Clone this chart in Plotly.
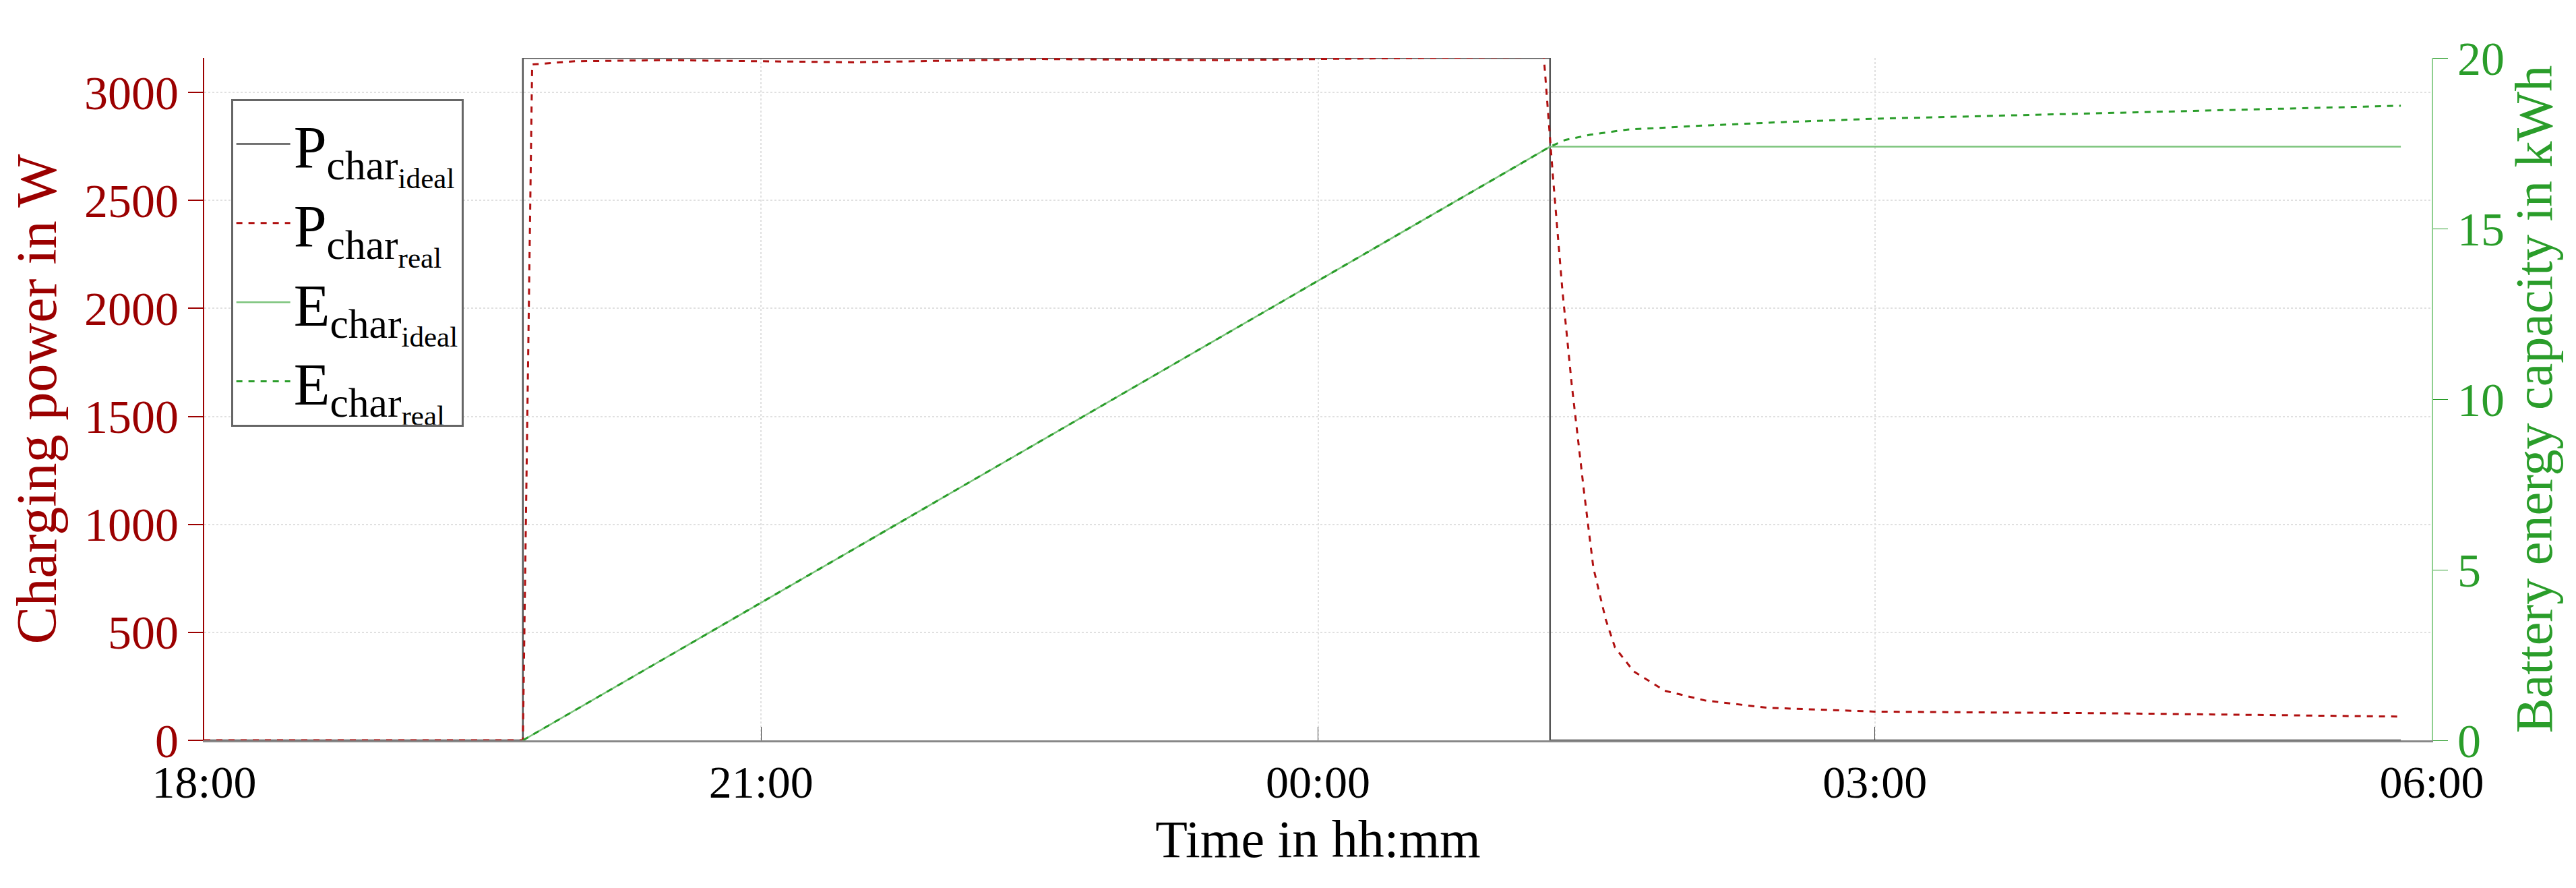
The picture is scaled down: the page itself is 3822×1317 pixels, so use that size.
import plotly.graph_objects as go

# --- data ---
p_ideal_t = ["2024-01-01 18:00", "2024-01-01 19:43", "2024-01-01 19:43", "2024-01-02 01:15",
             "2024-01-02 01:15", "2024-01-02 05:50"]
p_ideal_w = [0, 0, 3160, 3160, 0, 0]

p_real_t = ["2024-01-01 18:00", "2024-01-01 19:43", "2024-01-01 19:46", "2024-01-01 20:00",
            "2024-01-01 20:30", "2024-01-01 21:30", "2024-01-01 22:30", "2024-01-01 23:30",
            "2024-01-02 00:30", "2024-01-02 01:13", "2024-01-02 01:16", "2024-01-02 01:19",
            "2024-01-02 01:22", "2024-01-02 01:26", "2024-01-02 01:29", "2024-01-02 01:33",
            "2024-01-02 01:36", "2024-01-02 01:42", "2024-01-02 01:52", "2024-01-02 02:05",
            "2024-01-02 02:25", "2024-01-02 03:00", "2024-01-02 04:18", "2024-01-02 05:50"]
p_real_w = [0, 0, 3130, 3145, 3150, 3140, 3155, 3150, 3160, 3165, 2600, 2084, 1650, 1150,
            800, 560, 430, 320, 230, 185, 151, 133, 125, 110]

e_ideal_t = ["2024-01-01 19:43", "2024-01-02 01:15", "2024-01-02 05:50"]
e_ideal_kwh = [0, 17.4, 17.4]

e_real_t = ["2024-01-01 19:43", "2024-01-02 01:15", "2024-01-02 01:20", "2024-01-02 01:28",
            "2024-01-02 01:40", "2024-01-02 02:00", "2024-01-02 02:30", "2024-01-02 03:00",
            "2024-01-02 04:30", "2024-01-02 05:50"]
e_real_kwh = [0, 17.4, 17.6, 17.75, 17.9, 18.0, 18.12, 18.22, 18.42, 18.6]

DARKRED = "#9b0000"
GREEN = "#2a9d2a"
FONT = "Liberation Serif"

fig = go.Figure()
fig.add_trace(go.Scatter(x=p_ideal_t, y=p_ideal_w, mode="lines",
                         name="P<sub>char<sub>ideal</sub></sub>",
                         line=dict(color="#555555", width=2.5)))
fig.add_trace(go.Scatter(x=p_real_t, y=p_real_w, mode="lines",
                         name="P<sub>char<sub>real</sub></sub>",
                         line=dict(color="#b01010", width=3, dash="dash")))
fig.add_trace(go.Scatter(x=e_ideal_t, y=e_ideal_kwh, mode="lines", yaxis="y2",
                         name="E<sub>char<sub>ideal</sub></sub>",
                         line=dict(color="#7cc47c", width=2.5)))
fig.add_trace(go.Scatter(x=e_real_t, y=e_real_kwh, mode="lines", yaxis="y2",
                         name="E<sub>char<sub>real</sub></sub>",
                         line=dict(color=GREEN, width=3, dash="dash")))

grid = dict(showgrid=True, gridcolor="#e0e0e0", griddash="dot", gridwidth=2)

fig.update_layout(
    width=3822, height=1317,
    plot_bgcolor="white", paper_bgcolor="white",
    font=dict(family=FONT, size=70, color="black"),
    margin=dict(l=295, r=222, t=78, b=227),
    showlegend=True,
    legend=dict(x=0.012, y=0.94, xanchor="left", yanchor="top",
                bordercolor="#666666", borderwidth=3, bgcolor="white",
                font=dict(size=88), tracegroupgap=0, itemwidth=80),
    xaxis=dict(type="date", range=["2024-01-01 18:00", "2024-01-02 06:00"],
               tickvals=["2024-01-01 18:00", "2024-01-01 21:00", "2024-01-02 00:00",
                         "2024-01-02 03:00", "2024-01-02 06:00"],
               tickformat="%H:%M", ticks="inside", ticklen=20, tickcolor="#444444",
               showline=True, linecolor="#888888", linewidth=3,
               title=dict(text="Time in hh:mm", font=dict(size=78), standoff=20),
               tickfont=dict(size=68), **grid),
    yaxis=dict(range=[0, 3160], tickvals=[0, 500, 1000, 1500, 2000, 2500, 3000],
               ticks="outside", ticklen=22, tickcolor=DARKRED, tickwidth=2,
               showline=True, linecolor=DARKRED, linewidth=2,
               tickfont=dict(size=70, color=DARKRED),
               title=dict(text="Charging power in W", font=dict(size=84, color=DARKRED),
                          standoff=15),
               zeroline=False, **grid),
    yaxis2=dict(range=[0, 20], overlaying="y", side="right",
                tickvals=[0, 5, 10, 15, 20], ticks="outside", ticklen=22,
                tickcolor=GREEN, showline=True, linecolor="#8fcf8f", linewidth=2,
                tickfont=dict(size=70, color=GREEN), showgrid=False, zeroline=False,
                title=dict(text="Battery energy capacity in kWh",
                           font=dict(size=78, color=GREEN), standoff=15)),
)

fig.write_html("out.html")
